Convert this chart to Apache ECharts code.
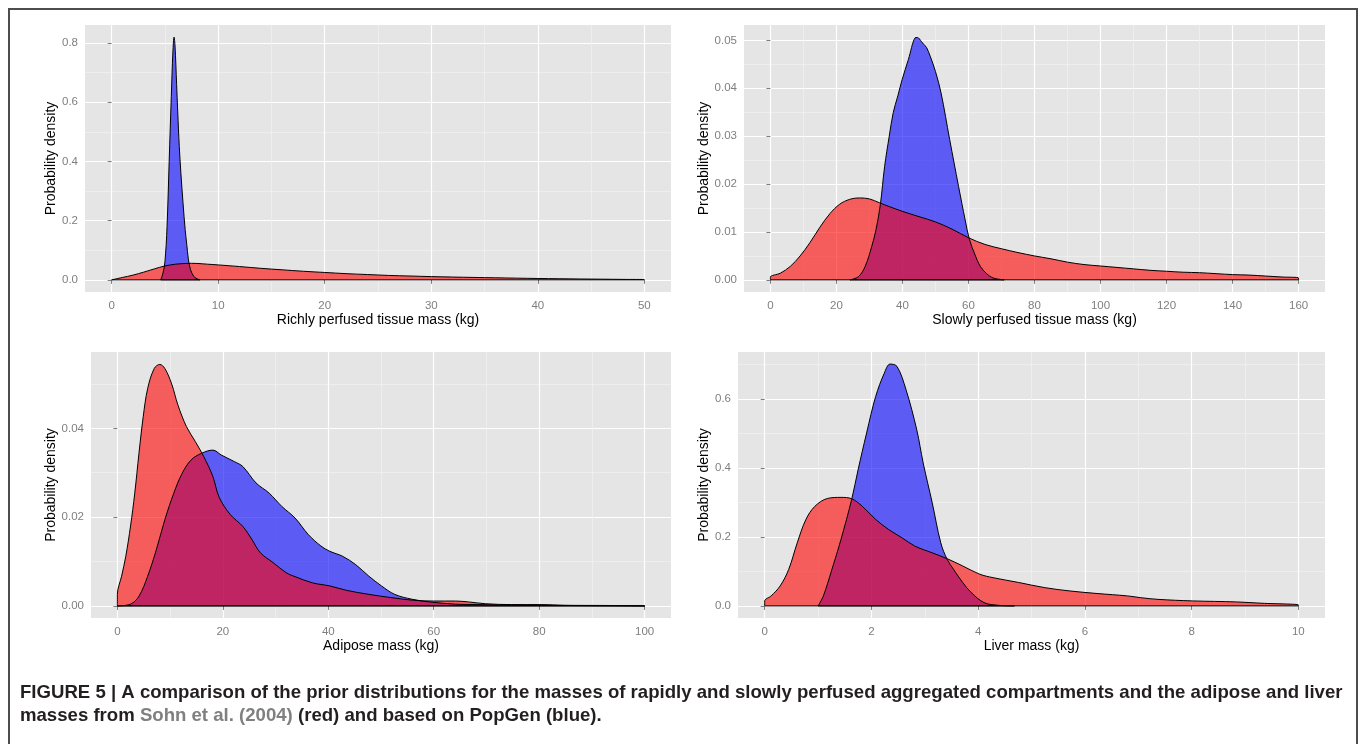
<!DOCTYPE html>
<html>
<head>
<meta charset="utf-8">
<title>Figure 5</title>
<script src="https://cdn.jsdelivr.net/npm/echarts@6/dist/echarts.min.js"></script>
<style>
html, body { margin: 0; padding: 0; background: #fff; }
#main { width: 1360px; height: 744px; }
</style>
</head>
<body>
<div id="main"></div>
<script>
// richly perfused tissue
var richBlueX = [4.6, 4.8, 5.0, 5.2, 5.4, 5.6, 5.75, 5.86, 5.95, 6.1, 6.2, 6.35, 6.5, 6.7, 6.9, 7.05, 7.2, 7.4, 7.7, 8.0, 8.3];
var richBlueY = [0, 0.02, 0.06, 0.18, 0.4, 0.62, 0.77, 0.82, 0.79, 0.66, 0.57, 0.45, 0.36, 0.26, 0.17, 0.12, 0.07, 0.035, 0.012, 0.004, 0];
var richRedX = [0, 1, 2, 3, 4, 5, 6, 7, 7.5, 8, 9, 10, 12, 14, 16, 18, 20, 22, 24, 26, 28, 30, 32, 34, 36, 38, 40, 42, 44, 46, 48, 50];
var richRedY = [0.001, 0.008, 0.016, 0.026, 0.037, 0.047, 0.053, 0.0555, 0.056, 0.0555, 0.053, 0.0505, 0.045, 0.039, 0.034, 0.029, 0.025, 0.021, 0.018, 0.015, 0.013, 0.011, 0.0095, 0.0082, 0.0070, 0.0058, 0.0047, 0.0038, 0.003, 0.0023, 0.0016, 0.001];

// slowly perfused tissue
var slowBlueX = [24.1, 26.7, 28.7, 30.7, 32.0, 33.3, 34.6, 36.0, 37.2, 38.6, 39.9, 41.8, 43.8, 44.5, 45.8, 46.4, 47.3, 48.4, 50.0, 51.7, 54.3, 57.0, 59.0, 60.3, 62.0, 63.6, 65.5, 67.5, 70.8];
var slowBlueY = [0, 0.0007, 0.0028, 0.007, 0.0105, 0.0157, 0.0237, 0.030, 0.0349, 0.0384, 0.0418, 0.046, 0.0505, 0.0506, 0.0497, 0.0492, 0.0485, 0.0467, 0.0435, 0.0390, 0.0293, 0.0195, 0.0125, 0.0084, 0.0052, 0.0028, 0.0013, 0.0004, 0];
var slowRedX = [0, 3, 6, 9, 12, 15, 18, 21, 24, 27, 30, 33, 36, 40, 45, 50, 55, 60, 65, 70, 75, 80, 85, 90, 95, 100, 105, 110, 115, 120, 125, 130, 135, 140, 145, 150, 155, 160];
var slowRedY = [0.0006, 0.0014, 0.0028, 0.0050, 0.0078, 0.0110, 0.0138, 0.0158, 0.0168, 0.0171, 0.0169, 0.0161, 0.0153, 0.0143, 0.0132, 0.0121, 0.0106, 0.0088, 0.0074, 0.0065, 0.0057, 0.0050, 0.0044, 0.0037, 0.0032, 0.0029, 0.0026, 0.0023, 0.0020, 0.0018, 0.0016, 0.0015, 0.0013, 0.0011, 0.0010, 0.0008, 0.0006, 0.0004];

// adipose
var adipBlueX = [0, 2.5, 4.1, 5.75, 7.4, 9.0, 10.7, 12.3, 14.0, 16.0, 18.1, 19.7, 22.2, 23.8, 26.3, 28.8, 31.2, 33.7, 36.2, 38.6, 40.3, 42.7, 45.2, 47.7, 50.1, 52.6, 55.9, 59.2, 64.1, 68.2, 76.4, 84.6, 100];
var adipBlueY = [0, 0.0004, 0.0022, 0.0067, 0.0127, 0.0194, 0.0254, 0.0299, 0.0329, 0.0344, 0.0351, 0.034, 0.0325, 0.0314, 0.0277, 0.0254, 0.0224, 0.0198, 0.0161, 0.0135, 0.0123, 0.0112, 0.0093, 0.0067, 0.0045, 0.0026, 0.0015, 0.0009, 0.0004, 0.0003, 0.00015, 0.0001, 0];
var adipRedX = [0, 0.8, 1.6, 2.5, 3.3, 4.1, 4.9, 5.75, 7.0, 8.05, 9.0, 10.3, 11.5, 13.1, 14.8, 16.4, 18.1, 19.3, 21.4, 23.8, 25.5, 27.1, 29.6, 32.0, 33.7, 37.0, 40.3, 43.5, 47.7, 51.8, 55.9, 60, 64.1, 66.6, 69.8, 74.8, 80.5, 84.6, 92.9, 100];
var adipRedY = [0.0026, 0.0067, 0.0112, 0.018, 0.0254, 0.0344, 0.0426, 0.049, 0.0535, 0.0544, 0.0535, 0.050, 0.0452, 0.0404, 0.037, 0.0336, 0.0292, 0.0245, 0.0206, 0.0179, 0.015, 0.012, 0.0097, 0.0075, 0.0066, 0.0052, 0.0045, 0.0035, 0.0026, 0.0019, 0.0013, 0.0011, 0.0011, 0.0009, 0.0005, 0.0003, 0.0003, 0.00015, 0.0001, 0.00002];

// liver
var liverBlueX = [1.0, 1.1, 1.26, 1.43, 1.63, 1.75, 1.91, 2.08, 2.24, 2.35, 2.48, 2.65, 2.85, 2.97, 3.14, 3.3, 3.42, 3.54, 3.71, 3.87, 4.11, 4.36, 4.68];
var liverBlueY = [0, 0.029, 0.106, 0.193, 0.309, 0.395, 0.502, 0.608, 0.675, 0.702, 0.695, 0.627, 0.511, 0.415, 0.299, 0.183, 0.135, 0.106, 0.068, 0.039, 0.0096, 0.002, 0];
var liverRedX = [0, 0.12, 0.29, 0.45, 0.61, 0.77, 0.94, 1.18, 1.43, 1.63, 1.83, 2.08, 2.32, 2.57, 2.81, 3.14, 3.42, 3.71, 4.03, 4.28, 4.76, 5.25, 5.74, 6.23, 6.8, 7.04, 7.37, 8.02, 8.84, 9.32, 10];
var liverRedY = [0.0145, 0.029, 0.058, 0.106, 0.183, 0.25, 0.289, 0.312, 0.315, 0.311, 0.289, 0.251, 0.222, 0.198, 0.174, 0.154, 0.137, 0.116, 0.092, 0.082, 0.068, 0.053, 0.043, 0.036, 0.029, 0.024, 0.019, 0.0145, 0.0116, 0.0077, 0.003];

// tick labels
var richXTicks = [0, 10, 20, 30, 40, 50];
var richYTicks = [0, 0.2, 0.4, 0.6, 0.8];
var slowXTicks = [0, 20, 40, 60, 80, 100, 120, 140, 160];
var slowYTicks = [0, 0.01, 0.02, 0.03, 0.04, 0.05];
var adipXTicks = [0, 20, 40, 60, 80, 100];
var adipYTicks = [0, 0.02, 0.04];
var liverXTicks = [0, 2, 4, 6, 8, 10];
var liverYTicks = [0, 0.2, 0.4, 0.6];

var FONT = "'Liberation Sans', Arial, Helvetica, sans-serif";

var panels = [
	{ grid: {left: 85, top: 25, width: 586, height: 267},
	  xMin: -2.5, xMax: 52.5, yMin: -0.041, yMax: 0.861,
	  xTicks: richXTicks, yTicks: richYTicks, yDigits: 1, xGap: 20, yGap: 24,
	  xName: 'Richly perfused tissue mass (kg)',
	  blue: [richBlueX, richBlueY], red: [richRedX, richRedY] },
	{ grid: {left: 744, top: 25, width: 581, height: 267},
	  xMin: -8, xMax: 168, yMin: -0.00253, yMax: 0.0532,
	  xTicks: slowXTicks, yTicks: slowYTicks, yDigits: 2, xGap: 20, yGap: 31,
	  xName: 'Slowly perfused tissue mass (kg)',
	  blue: [slowBlueX, slowBlueY], red: [slowRedX, slowRedY] },
	{ grid: {left: 91, top: 352, width: 580, height: 266},
	  xMin: -5, xMax: 105, yMin: -0.00272, yMax: 0.0572,
	  xTicks: adipXTicks, yTicks: adipYTicks, yDigits: 2, xGap: 21, yGap: 30,
	  xName: 'Adipose mass (kg)',
	  blue: [adipBlueX, adipBlueY], red: [adipRedX, adipRedY] },
	{ grid: {left: 738, top: 352, width: 587, height: 266},
	  xMin: -0.5, xMax: 10.5, yMin: -0.0351, yMax: 0.737,
	  xTicks: liverXTicks, yTicks: liverYTicks, yDigits: 1, xGap: 21, yGap: 25,
	  xName: 'Liver mass (kg)',
	  blue: [liverBlueX, liverBlueY], red: [liverRedX, liverRedY] }
];

// minor grid lines sit halfway between the major ones
function halfway(ticks){
	var out = [];
	for (var i = 0; i < ticks.length - 1; i++) out.push((ticks[i] + ticks[i + 1]) / 2);
	var step = ticks[1] - ticks[0];
	out.push(ticks[ticks.length - 1] + step / 2);
	return out;
}

// closed polygon: down to zero at both ends
function pairs(xs, ys){
	var d = [[xs[0], 0]];
	for (var i = 0; i < xs.length; i++) d.push([xs[i], ys[i]]);
	d.push([xs[xs.length - 1], 0]);
	return d;
}

var grids = [], xAxes = [], yAxes = [], series = [];

panels.forEach(function(p, i){
	grids.push({left: p.grid.left, top: p.grid.top, width: p.grid.width, height: p.grid.height,
		show: true, backgroundColor: '#e5e5e5', borderWidth: 0, containLabel: false});

	var xMinor = halfway(p.xTicks), yMinor = halfway(p.yTicks);
	//主刻度 x
	xAxes.push({
		type: 'value', gridIndex: i, min: p.xMin, max: p.xMax, position: 'bottom',
		axisLine: {show: false},
		axisTick: {show: true, length: 4, customValues: p.xTicks, lineStyle: {color: '#7f7f7f'}},
		axisLabel: {customValues: p.xTicks, color: '#7f7f7f', fontSize: 11.5, margin: 8, fontFamily: FONT},
		splitLine: {show: true, lineStyle: {color: '#ffffff', width: 1.2}},
		name: p.xName, nameLocation: 'middle', nameGap: p.xGap,
		nameTextStyle: {color: '#000', fontSize: 14, fontFamily: FONT}
	});
	//次刻度 x
	xAxes.push({
		type: 'value', gridIndex: i, min: p.xMin, max: p.xMax, position: 'top',
		axisLine: {show: false},
		axisTick: {show: false, customValues: xMinor},
		axisLabel: {show: false},
		splitLine: {show: true, lineStyle: {color: '#f0f0f0', width: 0.8}}
	});
	yAxes.push({
		type: 'value', gridIndex: i, min: p.yMin, max: p.yMax, position: 'left',
		axisLine: {show: false},
		axisTick: {show: true, length: 4, customValues: p.yTicks, lineStyle: {color: '#7f7f7f'}},
		axisLabel: {customValues: p.yTicks, color: '#7f7f7f', fontSize: 11.5, margin: 7, fontFamily: FONT,
			formatter: (function(dg){ return function(v){ return v.toFixed(dg); }; })(p.yDigits)},
		splitLine: {show: true, lineStyle: {color: '#ffffff', width: 1.2}},
		name: 'Probability density', nameLocation: 'middle', nameGap: p.yGap,
		nameTextStyle: {color: '#000', fontSize: 14, fontFamily: FONT}
	});
	yAxes.push({
		type: 'value', gridIndex: i, min: p.yMin, max: p.yMax, position: 'right',
		axisLine: {show: false},
		axisTick: {show: false, customValues: yMinor},
		axisLabel: {show: false},
		splitLine: {show: true, lineStyle: {color: '#f0f0f0', width: 0.8}}
	});

	var xi = i * 2, yi = i * 2;
	[['PopGen', p.blue, 'rgba(0,0,255,0.6)'], ['Sohn', p.red, 'rgba(255,0,0,0.6)']].forEach(function(s){
		var xs = s[1][0];
		series.push({
			name: s[0], type: 'line', xAxisIndex: xi, yAxisIndex: yi,
			data: pairs(xs, s[1][1]),
			smooth: 0.35, symbol: 'none', silent: true,
			lineStyle: {color: '#000', width: 1},
			itemStyle: {color: s[2]},
			areaStyle: {color: s[2], opacity: 1}
		});
		//底线
		series.push({
			type: 'line', xAxisIndex: xi, yAxisIndex: yi,
			data: [[xs[0], 0], [xs[xs.length - 1], 0]],
			symbol: 'none', silent: true,
			lineStyle: {color: '#000', width: 1}
		});
	});
});

var caption1 = 'FIGURE 5 | A comparison of the prior distributions for the masses of rapidly and slowly perfused aggregated compartments and the adipose and liver';
var caption2 = 'masses from {g|Sohn et al. (2004)} (red) and based on PopGen (blue).';

var myChart = echarts.init(document.getElementById('main'));
var option = {
	animation: false,
	backgroundColor: '#ffffff',
	textStyle: {fontFamily: FONT},
	grid: grids,
	xAxis: xAxes,
	yAxis: yAxes,
	series: series,
	graphic: [
		{ type: 'rect', silent: true, z: 100,
		  shape: {x: 9, y: 9, width: 1348, height: 800},
		  style: {fill: null, stroke: '#4d4d4d', lineWidth: 2} },
		{ type: 'text', left: 20, top: 683, z: 100,
		  style: {text: caption1, fill: '#231f20', font: 'bold 18.6px ' + FONT} },
		{ type: 'text', left: 20, top: 706, z: 100,
		  style: {text: caption2, fill: '#231f20', font: 'bold 18.6px ' + FONT,
		          rich: {g: {fill: '#808080', font: 'bold 18.6px ' + FONT}}} }
	]
};
myChart.setOption(option);
</script>
</body>
</html>
